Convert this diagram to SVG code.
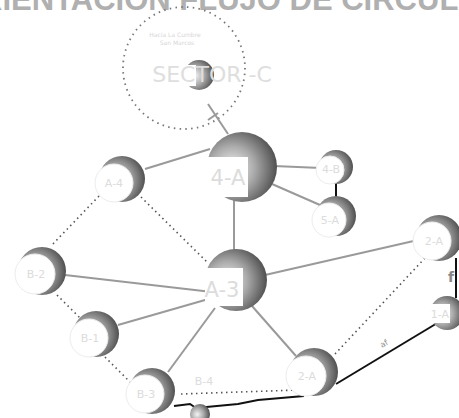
<svg xmlns="http://www.w3.org/2000/svg" width="459" height="418" viewBox="0 0 459 418">
<defs>
<radialGradient id="sph" cx="36%" cy="52%" r="64%">
<stop offset="0" stop-color="#f4f4f4"/>
<stop offset="0.5" stop-color="#aaaaaa"/>
<stop offset="1" stop-color="#505050"/>
</radialGradient>
</defs>
<style>
.sph{fill:url(#sph)}
.lb{fill:#fff;stroke:#ececec;stroke-width:1}
.lbr{fill:#fff}
.t{font-family:"DejaVu Sans",sans-serif;fill:#dcdcdc;text-anchor:middle}
.ts{font-size:11px}
.tb{font-size:21px}
.sol{stroke:#9a9a9a;stroke-width:2;fill:none}
.dot{stroke:#555;stroke-width:1.6;stroke-dasharray:1.5 3.5;fill:none}
.blk{stroke:#111;stroke-width:2;fill:none}
</style>
<rect width="459" height="418" fill="#fff"/>
<text x="-44" y="10" font-family="'Liberation Sans',Arial,sans-serif" font-size="31" fill="#b0b0b0" font-weight="bold">ORIENTACIÓN FLUJO DE CIRCULACIÓN</text>
<g id="sector-c">
<circle cx="184" cy="68" r="61" fill="none" stroke="#777" stroke-width="1.8" stroke-dasharray="1.5 4.3"/>
<text x="175" y="37" font-family="'DejaVu Sans',sans-serif" font-size="6" fill="#d6d6d6" text-anchor="middle">Hacia La Cumbre</text>
<text x="177" y="45" font-family="'DejaVu Sans',sans-serif" font-size="6" fill="#d6d6d6" text-anchor="middle">San Marcos</text>
</g>
<g id="connectors">
<line class="sol" x1="208" y1="104" x2="228" y2="134"/>
<line class="sol" x1="208" y1="120" x2="218" y2="113" stroke-width="1.5"/>
<line class="sol" x1="145" y1="169" x2="210" y2="149"/>
<line class="sol" x1="274" y1="166" x2="321" y2="168"/>
<line class="sol" x1="272" y1="184" x2="320" y2="205"/>
<line class="blk" x1="336" y1="183" x2="336" y2="199"/>
<line class="sol" x1="234" y1="200" x2="234" y2="250"/>
<line class="dot" x1="99" y1="196" x2="51" y2="246"/>
<line class="dot" x1="141" y1="197" x2="207" y2="262"/>
<line class="sol" x1="65" y1="275" x2="212" y2="292"/>
<line class="dot" x1="57" y1="295" x2="80" y2="318"/>
<line class="sol" x1="118" y1="325" x2="212" y2="298"/>
<line class="dot" x1="105" y1="357" x2="133" y2="385"/>
<line class="sol" x1="168" y1="372" x2="215" y2="308"/>
<line class="sol" x1="265" y1="275" x2="418" y2="240"/>
<line class="sol" x1="252" y1="306" x2="296" y2="356"/>
<line class="dot" x1="335" y1="354" x2="425" y2="258"/>
<line class="blk" x1="456" y1="258" x2="456" y2="298"/>
<line class="blk" x1="439" y1="322" x2="336" y2="384" stroke-width="2.2"/>
<line class="dot" x1="181" y1="394" x2="298" y2="390"/>
<polyline class="blk" points="174,406 190,404 196,408 238,404 258,400 304,396"/>
<text x="382" y="348" font-family="'DejaVu Sans',sans-serif" font-size="8" fill="#888" transform="rotate(-30 382 348)">af</text>
<text x="448" y="282" font-family="'DejaVu Sans',sans-serif" font-size="14" font-weight="bold" fill="#888">f</text>
<text x="204" y="385" class="t ts">B-4</text>
</g>
<g id="node-sector">
<circle class="sph" cx="199" cy="75" r="15"/>
<rect class="lbr" x="183" y="65" width="13" height="21"/>
<text x="212" y="82" font-family="'DejaVu Sans',sans-serif" font-size="22" fill="#dedede" text-anchor="middle">SECTOR -C</text>
</g>
<g id="node-4A">
<circle class="sph" cx="242" cy="167" r="35"/>
<rect class="lbr" x="205" y="157" width="43" height="40"/>
<text x="228" y="185" class="t tb">4-A</text>
</g>
<g id="node-A3">
<circle class="sph" cx="236" cy="280" r="31"/>
<rect class="lbr" x="205" y="268" width="38" height="38"/>
<text x="222" y="297" class="t tb">A-3</text>
</g>
<g id="node-A4">
<circle class="sph" cx="122" cy="179" r="23"/>
<circle class="lb" cx="114" cy="183" r="19"/>
<text x="114" y="187" class="t ts">A-4</text>
</g>
<g id="node-4B">
<circle class="sph" cx="336" cy="167" r="17"/>
<circle class="lb" cx="330" cy="170" r="14"/>
<text x="331" y="173" class="t ts">4-B</text>
</g>
<g id="node-5A">
<circle class="sph" cx="336" cy="216" r="20"/>
<circle class="lb" cx="329" cy="220" r="17"/>
<text x="330" y="224" class="t ts">5-A</text>
</g>
<g id="node-B2">
<circle class="sph" cx="42" cy="271" r="24"/>
<circle class="lb" cx="35" cy="274" r="20"/>
<text x="36" y="278" class="t ts">B-2</text>
</g>
<g id="node-B1">
<circle class="sph" cx="96" cy="334" r="23"/>
<circle class="lb" cx="89" cy="338" r="19"/>
<text x="90" y="342" class="t ts">B-1</text>
</g>
<g id="node-B3">
<circle class="sph" cx="152" cy="391" r="23"/>
<circle class="lb" cx="145" cy="394" r="19"/>
<text x="146" y="398" class="t ts">B-3</text>
</g>
<g id="node-B4small">
<circle class="sph" cx="200" cy="414" r="10"/>
</g>
<g id="node-2A-bottom">
<circle class="sph" cx="314" cy="372" r="24"/>
<circle class="lb" cx="306" cy="376" r="20"/>
<text x="307" y="380" class="t ts">2-A</text>
</g>
<g id="node-2A-right">
<circle class="sph" cx="439" cy="238" r="23"/>
<circle class="lb" cx="432" cy="241" r="19"/>
<text x="434" y="245" class="t ts">2-A</text>
</g>
<g id="node-1A">
<circle class="sph" cx="447" cy="313" r="17"/>
<rect class="lbr" x="428" y="304" width="22" height="19"/>
<text x="440" y="318" class="t ts">1-A</text>
</g>
</svg>
